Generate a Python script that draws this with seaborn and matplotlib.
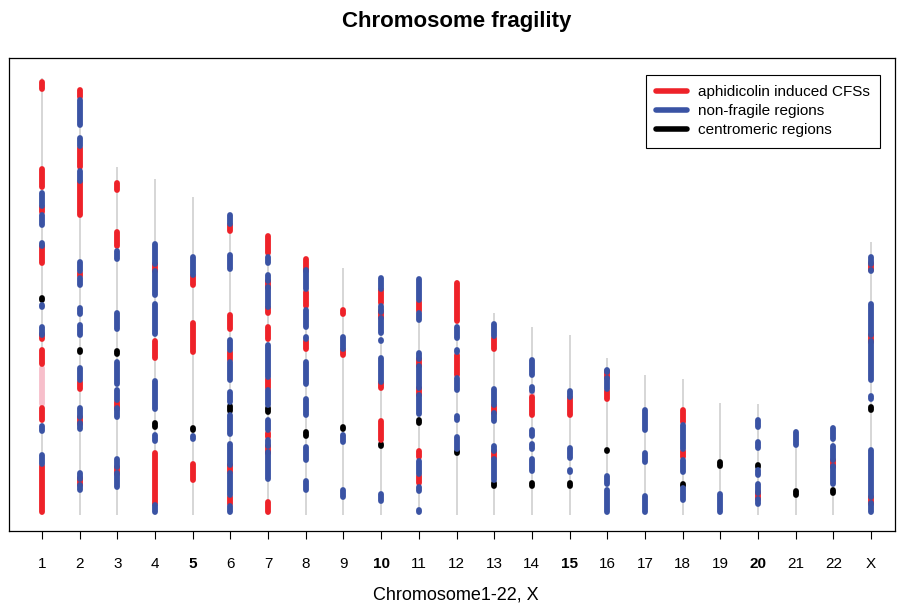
import pandas as pd
import seaborn as sns
import matplotlib.pyplot as plt
from matplotlib.lines import Line2D

# chromosome labels and lengths (Mb)
chrom_labels = [str(i) for i in range(1, 23)] + ["X"]
chrom_length = [249.2, 243.2, 198.5, 191.2, 181.0, 171.1, 159.1, 146.4, 140.7, 135.5, 135.0, 133.9,
                115.2, 107.3, 102.5, 89.5, 79.5, 77.5, 64.0, 63.0, 49.0, 51.3, 155.3]

# segments: (chromosome index, start Mb, end Mb)
cfs = [
    (1, 242.8, 246.6), (1, 187.0, 197.1), (1, 172.5, 175.5), (1, 143.8, 153.0), (1, 100.4, 103.0),
    (1, 86.1, 93.9), (1, 54.2, 60.9), (1, 1.8, 28.0),
    (2, 238.0, 242.1), (2, 198.5, 209.0), (2, 170.8, 190.0), (2, 136.0, 138.0), (2, 71.8, 76.0),
    (2, 52.0, 56.0), (2, 17.0, 21.0),
    (3, 185.3, 189.2), (3, 153.0, 161.2), (3, 60.5, 64.5), (3, 23.6, 27.6),
    (4, 139.0, 143.0), (4, 89.5, 99.2), (4, 6.0, 35.2),
    (5, 130.8, 136.0), (5, 92.8, 109.2), (5, 19.8, 29.2),
    (6, 161.8, 165.0), (6, 106.1, 113.9), (6, 88.5, 93.0), (6, 24.5, 28.5), (6, 6.0, 10.0),
    (7, 149.5, 158.9), (7, 129.6, 133.6), (7, 114.9, 118.0), (7, 100.4, 107.0), (7, 72.5, 77.5),
    (7, 44.5, 47.0), (7, 35.6, 39.6), (7, 1.8, 7.2),
    (8, 139.0, 145.8), (8, 119.0, 127.0), (8, 94.7, 99.0),
    (9, 114.6, 116.7), (9, 91.3, 94.0),
    (10, 121.0, 128.0), (10, 112.0, 116.0), (10, 72.5, 75.0), (10, 42.8, 53.5),
    (11, 116.5, 121.5), (11, 85.0, 89.0), (11, 68.3, 72.3), (11, 33.0, 36.2), (11, 18.0, 22.0),
    (12, 110.6, 132.2), (12, 80.0, 91.0),
    (13, 94.8, 101.0), (13, 58.4, 62.4), (13, 32.5, 36.5),
    (14, 57.1, 67.0),
    (15, 57.1, 66.5),
    (16, 78.0, 82.0), (16, 66.2, 70.5),
    (18, 53.0, 59.7), (18, 33.0, 36.5),
    (20, 9.0, 13.0),
    (22, 27.6, 31.6),
    (23, 139.5, 143.5), (23, 98.7, 102.7), (23, 6.5, 10.5),
]

non_fragile = [
    (1, 175.8, 183.2), (1, 165.3, 171.2), (1, 153.5, 155.0), (1, 118.7, 119.5), (1, 102.8, 107.2),
    (1, 47.8, 50.6), (1, 28.8, 34.2),
    (2, 222.3, 236.2), (2, 210.3, 214.7), (2, 190.4, 196.2), (2, 138.8, 144.2), (2, 130.8, 135.2),
    (2, 114.8, 118.2), (2, 102.8, 108.2), (2, 76.8, 83.7), (2, 55.8, 60.9), (2, 48.8, 52.2),
    (2, 20.8, 23.8), (2, 14.3, 17.2),
    (3, 145.8, 150.2), (3, 105.8, 115.2), (3, 74.8, 87.2), (3, 65.8, 71.2), (3, 55.8, 60.7),
    (3, 27.4, 31.8), (3, 15.8, 23.8),
    (4, 142.8, 154.2), (4, 125.4, 139.0), (4, 103.2, 120.2), (4, 60.5, 76.2), (4, 42.3, 45.5), (4, 1.8, 5.6),
    (5, 136.8, 146.9), (5, 43.4, 45.2),
    (6, 165.8, 170.8), (6, 140.3, 148.2), (6, 94.1, 99.6), (6, 76.8, 87.2), (6, 64.5, 70.0),
    (6, 46.2, 56.9), (6, 28.6, 40.2), (6, 11.5, 23.8), (6, 1.8, 5.0),
    (7, 143.8, 147.2), (7, 133.4, 136.7), (7, 118.6, 129.8), (7, 78.8, 96.8), (7, 62.8, 71.2),
    (7, 48.5, 54.0), (7, 39.4, 42.6), (7, 20.6, 35.8),
    (8, 128.8, 139.5), (8, 107.2, 116.7), (8, 100.4, 101.2), (8, 74.8, 87.2), (8, 57.1, 66.0),
    (8, 31.4, 38.7), (8, 14.3, 19.2),
    (9, 94.8, 101.2), (9, 41.8, 45.5), (9, 10.3, 14.2),
    (10, 128.8, 135.0), (10, 115.8, 119.0), (10, 103.8, 112.2), (10, 99.2, 99.6), (10, 75.8, 89.2),
    (10, 8.1, 12.2),
    (11, 122.8, 134.2), (11, 111.2, 115.0), (11, 88.8, 92.2), (11, 72.1, 84.8), (11, 57.6, 68.5),
    (11, 23.4, 30.7), (11, 13.8, 16.2), (11, 1.8, 2.7),
    (12, 100.8, 107.0), (12, 92.8, 94.2), (12, 71.3, 78.2), (12, 54.2, 56.2), (12, 37.8, 44.2),
    (13, 101.8, 108.7), (13, 62.8, 71.7), (13, 53.7, 58.2), (13, 36.6, 39.2), (13, 19.8, 32.2),
    (14, 79.8, 88.2), (14, 70.8, 72.8), (14, 45.1, 48.2), (14, 37.8, 40.2), (14, 25.2, 31.8),
    (15, 67.3, 70.6), (15, 32.6, 38.2), (15, 24.6, 25.6),
    (16, 81.6, 82.5), (16, 71.8, 78.0), (16, 17.8, 22.2), (16, 1.8, 14.2),
    (17, 48.5, 59.7), (17, 30.3, 35.2), (17, 1.8, 10.7),
    (18, 37.8, 51.2), (18, 24.6, 31.2), (18, 8.6, 15.2),
    (19, 1.8, 12.2),
    (20, 50.2, 54.0), (20, 38.3, 41.5), (20, 22.8, 25.6), (20, 12.8, 17.6), (20, 6.3, 9.2),
    (21, 39.8, 47.2),
    (22, 43.4, 49.5), (22, 31.4, 39.2), (22, 17.8, 27.8),
    (23, 143.3, 146.9), (23, 139.1, 139.7), (23, 102.5, 120.2), (23, 76.8, 98.9), (23, 66.2, 67.7),
    (23, 10.3, 36.9), (23, 1.8, 6.7),
]

centromeric = [
    (1, 122.8, 123.6), (2, 92.8, 94.2), (3, 91.8, 93.2), (4, 50.2, 52.2), (5, 48.6, 49.4),
    (6, 59.5, 62.0), (7, 58.5, 61.0), (8, 45.1, 47.2), (9, 49.1, 50.1), (10, 39.5, 40.5),
    (11, 52.5, 54.0), (12, 35.5, 36.5), (13, 16.5, 18.0), (14, 16.6, 18.2), (15, 16.6, 18.2),
    (16, 36.3, 37.2), (17, 22.8, 22.9), (18, 16.8, 17.4), (19, 28.0, 30.2), (20, 27.5, 28.5),
    (21, 11.5, 13.6), (22, 12.6, 14.2), (23, 59.8, 61.4),
]

# weaker CFS (light shade, not in legend)
weak_cfs = [(1, 63.0, 84.0), (14, 66.5, 69.5)]

colors = {"weak": "#F7BFCB", "centromeric": "#000000", "cfs": "#EE2229", "nonfragile": "#3A53A4"}

rows = []
seg = 0
for kind, segs in [("weak", weak_cfs), ("centromeric", centromeric), ("cfs", cfs), ("nonfragile", non_fragile)]:
    for c, s, e in segs:
        rows.append({"seg": seg, "chrom": c, "pos": s, "type": kind})
        rows.append({"seg": seg, "chrom": c, "pos": e, "type": kind})
        seg += 1
df = pd.DataFrame(rows)

sns.set_style("white")
plt.rcParams["font.family"] = ["Liberation Sans", "DejaVu Sans"]
plt.rcParams["text.color"] = "black"
plt.rcParams["xtick.color"] = "black"

fig = plt.figure(figsize=(8.97, 6.03), dpi=100)
ax = fig.add_axes([9 / 897, 1 - 531 / 603, 886 / 897, 473 / 603])

xs = list(range(1, 24))
ax.vlines(xs, 0, chrom_length, color="#cccccc", lw=1.1, zorder=1)

sns.lineplot(data=df, x="chrom", y="pos", hue="type", units="seg", estimator=None, sort=False,
             hue_order=["weak", "centromeric", "cfs", "nonfragile"], palette=colors,
             linewidth=4.2, solid_capstyle="round", legend=False, ax=ax)

ax.set_xlim(0.124, 23.637)
ax.set_ylim(-9.1, 260.4)
ax.set_xticks(xs)
ax.set_xticklabels(chrom_labels, fontsize=11)
for lab in ax.get_xticklabels():
    if lab.get_text() in ("5", "10", "15", "20"):
        lab.set_fontweight("bold")
ax.set_yticks([])
ax.set_xlabel("")
ax.set_ylabel("")
ax.tick_params(axis="x", direction="out", length=5.5, width=0.8, color="black", labelcolor="black",
               pad=13, bottom=True)
for sp in ax.spines.values():
    sp.set_color("black")
    sp.set_linewidth(0.9)

handles = [Line2D([0], [0], color=colors["cfs"], lw=4),
           Line2D([0], [0], color=colors["nonfragile"], lw=4),
           Line2D([0], [0], color=colors["centromeric"], lw=4)]
leg = fig.legend(handles, ["aphidicolin induced CFSs", "non-fragile regions", "centromeric regions"],
                 loc="upper right", bbox_to_anchor=(880 / 897, 1 - 75 / 603), borderaxespad=0,
                 fontsize=11, frameon=True, fancybox=False, framealpha=1, edgecolor="black",
                 handlelength=2.0, handletextpad=0.7, labelspacing=0.32, borderpad=0.68)
leg.get_frame().set_linewidth(0.8)

fig.text(457 / 897, 1 - 21 / 603, "Chromosome fragility", ha="center", va="center",
         fontsize=16, fontweight="bold", color="black")
fig.text(456 / 897, 1 - 595 / 603, "Chromosome1-22, X", ha="center", va="center",
         fontsize=13, color="black")

fig.savefig("out.png", dpi=100)
